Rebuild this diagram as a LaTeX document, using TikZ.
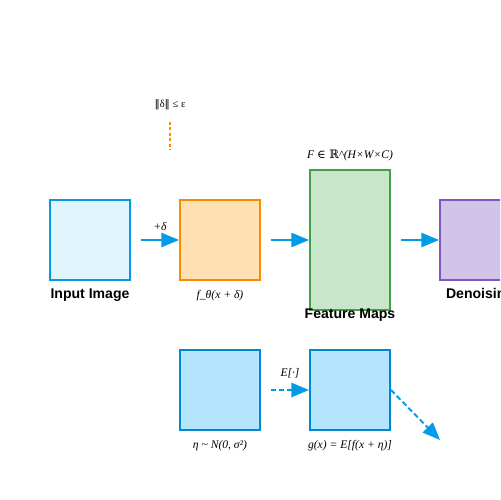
\documentclass[tikz,border=0pt]{standalone}
\usepackage{fontspec}
\setmainfont{Liberation Serif}
\setsansfont{Liberation Sans}
\newfontfamily\symfont{DejaVu Serif}
\usetikzlibrary{arrows.meta,positioning}
\definecolor{skyline}{HTML}{039BE5}
\definecolor{skyfill}{HTML}{E1F5FE}
\definecolor{orangeline}{HTML}{FB8C00}
\definecolor{orangefill}{HTML}{FFE0B2}
\definecolor{greenline}{HTML}{43A047}
\definecolor{greenfill}{HTML}{C8E6C9}
\definecolor{purpleline}{HTML}{7E57C2}
\definecolor{purplefill}{HTML}{D1C4E9}
\definecolor{blueline}{HTML}{0288D1}
\definecolor{bluefill}{HTML}{B3E5FC}
\tikzset{
  block/.style={draw,line width=1.1pt,minimum width=1.6cm,minimum height=1.6cm,inner sep=0pt},
  title/.style={font=\sffamily\bfseries\fontsize{8}{9}\selectfont,inner sep=0pt},
  formula/.style={font=\itshape\fontsize{6.6}{8}\selectfont,inner sep=0pt},
  arr/.style={draw=skyline,line width=1.1pt,-{Triangle[length=10pt,width=8pt]}},
  darr/.style={arr,dash pattern=on 3pt off 1.7pt}
}
\begin{document}
\begin{tikzpicture}[x=0.02cm,y=-0.02cm]
\useasboundingbox (0,0) rectangle (500,500);
\clip (0,0) rectangle (500,500);
% top row
\node[block,fill=skyfill,draw=skyline] (inp) at (90,240) {};
\node[block,fill=orangefill,draw=orangeline] (pert) at (220,240) {};
\node[block,fill=greenfill,draw=greenline,minimum height=2.8cm] (feat) at (350,240) {};
\node[block,fill=purplefill,draw=purpleline] (den) at (480,240) {};
\node[title] (inplab) at (90,295) {Input Image};
\node[formula] (pertlab) at (220,296) {f\_θ(x + δ)};
\node[formula] (featdim) at (350,156) {F {\symfont\upshape ∈ ℝ}\^{}(H×W×C)};
\node[title] (featlab) at (350,315) {Feature Maps};
\node[title] (denlab) at (480,295) {Denoising};
\node[formula,font=\fontsize{6}{7}\selectfont] (norm) at (170,105) {{\symfont ‖}δ{\symfont ‖} ≤ ε};
\coordinate (normend) at (170,150);
\draw[orangeline,line width=1.1pt,dash pattern=on 1.7pt off 1.4pt] (170,122) -- (normend);
\draw[arr,shorten <=10*0.02cm] (inp) -- (pert) node[formula,midway,above=5pt,xshift=0.1cm] {+δ};
\draw[arr,shorten <=10*0.02cm] (pert) -- (feat);
\draw[arr,shorten <=10*0.02cm] (feat) -- (den);
% bottom row
\node[block,fill=bluefill,draw=blueline] (noise) at (220,390) {};
\node[block,fill=bluefill,draw=blueline] (smooth) at (350,390) {};
\node[formula] (noiselab) at (220,446) {η \textasciitilde{} N(0, σ²)};
\node[formula] (smoothlab) at (350,446) {g(x) = E[f(x + η)]};
\coordinate (outend) at (440,440);
\draw[darr,shorten <=10*0.02cm] (noise) -- (smooth) node[formula,midway,above=6pt,xshift=0.1cm] {E[·]};
\draw[darr] (smooth.east) -- (outend);
\end{tikzpicture}
\end{document}
